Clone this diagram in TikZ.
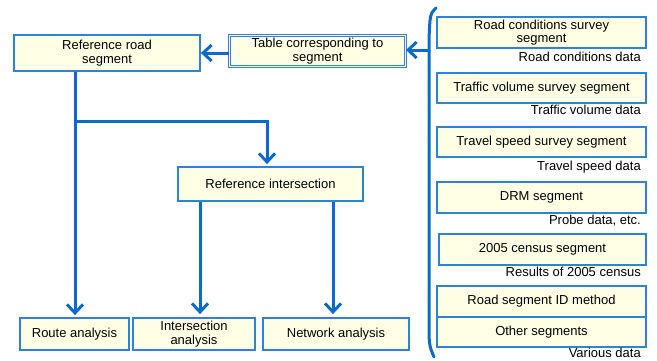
\documentclass[tikz,border=0pt]{standalone}
\usepackage{fontspec}
\setmainfont{Liberation Sans}
\usetikzlibrary{arrows.meta}
\definecolor{flowblue}{HTML}{0A6BCB}
\definecolor{edgeblue}{HTML}{2A86D2}
\definecolor{boxfill}{HTML}{FFFFE6}
\tikzset{
  box/.style={draw=edgeblue, line width=1.8pt, fill=boxfill, inner sep=0pt,
    align=center, font=\fontsize{13}{13.6}\selectfont, text=black},
  dbox/.style={box, double=boxfill, double distance=1.6pt, line width=0.9pt},
  note/.style={anchor=east, inner sep=0pt, font=\fontsize{13}{14}\selectfont, text=black},
  flow/.style={draw=flowblue, line width=3pt},
  arr/.style={flow, -{Straight Barb[length=8.5pt,width=16pt,line width=3pt]}},
}
\begin{document}
\begin{tikzpicture}[x=1pt,y=-1pt]
\useasboundingbox (0,0) rectangle (657,360);
% left side
\node[box, minimum width=186pt, minimum height=36pt] (road) at (107,53) {Reference road\\segment};
\node[dbox, minimum width=176pt, minimum height=31pt] (table) at (317.5,51) {Table corresponding to\\segment};
\node[box, minimum width=185pt, minimum height=34pt] (inter) at (270.5,184) {Reference intersection};
\node[box, minimum width=109pt, minimum height=32pt] (route) at (74.5,334) {Route analysis};
\node[box, minimum width=122pt, minimum height=32pt] (ianal) at (194,334) {Intersection\\analysis};
\node[box, minimum width=146pt, minimum height=32pt] (net) at (336,334) {Network analysis};
% right column of segment sources
\node[box, minimum width=209pt, minimum height=31pt] (s1) at (541.5,32.5) {Road conditions survey\\segment};
\node[note] (d1) at (641,57) {Road conditions data};
\node[box, minimum width=209pt, minimum height=30pt] (s2) at (541.5,88) {Traffic volume survey segment};
\node[note] (d2) at (641,110) {Traffic volume data};
\node[box, minimum width=209pt, minimum height=30pt] (s3) at (541.5,142) {Travel speed survey segment};
\node[note] (d3) at (641,167) {Travel speed data};
\node[box, minimum width=209pt, minimum height=31pt] (s4) at (541.5,197.5) {DRM segment};
\node[note] (d4) at (641,221) {Probe data, etc.};
\node[box, minimum width=207pt, minimum height=31pt] (s5) at (542.5,249.5) {2005 census segment};
\node[note] (d5) at (641,272) {Results of 2005 census};
\node[box, minimum width=209pt, minimum height=31pt] (s6) at (541.5,301.5) {Road segment ID method};
\node[box, minimum width=209pt, minimum height=30pt] (s7) at (541.5,332) {Other segments};
\node[note] (d7) at (641,353) {Various data};
% brace gathering the sources
\coordinate (btop) at (436,8);
\coordinate (bmid) at (429,50);
\coordinate (bbot) at (434,357);
\draw[flow, line cap=round] (btop) .. controls (430,14) .. (429,40) -- (429,320) .. controls (429,345) .. (bbot);
% connectors
\draw[arr] (bmid) -- (table.east |- bmid);
\draw[arr] (table.west |- road.east) -- (road.east);
\coordinate (split) at (75,121);
\draw[arr, shorten >=2pt] (road.south -| split) -- (route.north -| split);
\draw[arr, shorten >=2pt] (split) -- (267,121) -- (inter.north -| 267,0);
\draw[arr, shorten >=3pt] (inter.south -| 200,0) -- (ianal.north -| 200,0);
\draw[arr, shorten >=3pt] (inter.south -| 333,0) -- (net.north -| 333,0);
\end{tikzpicture}
\end{document}
